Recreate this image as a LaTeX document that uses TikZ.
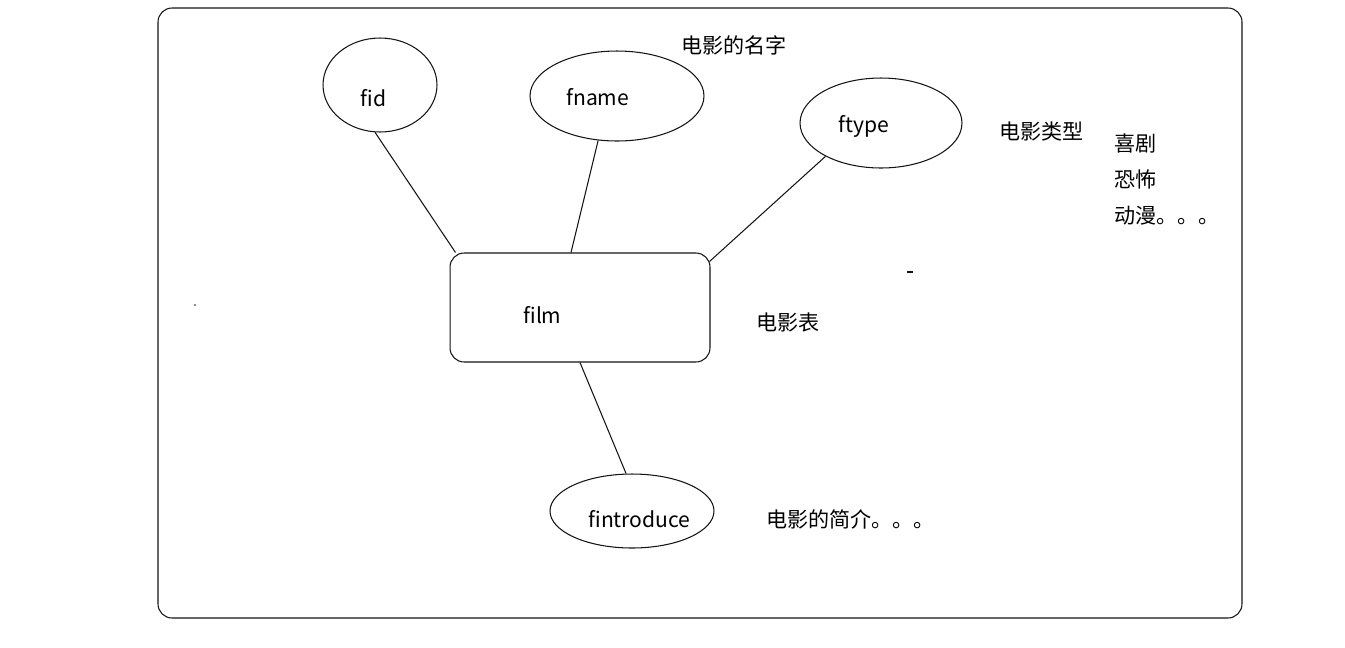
\documentclass[tikz,border=0pt]{standalone}
\usepackage{fontspec}
\newfontfamily\cjk{Noto Sans CJK SC}
\usepackage{tikz}
\usetikzlibrary{calc}
\usetikzlibrary{shapes.geometric}
\usepackage{color}
\definecolor{inkline}{RGB}{20, 20, 20}

\begin{document}
\begin{tikzpicture}[x=0.02cm, y=-0.02cm,
        attr/.style   = {draw=inkline, ellipse, line width=0.6pt, inner sep=0pt},
        entity/.style = {draw=inkline, rectangle, rounded corners=8pt, line width=0.6pt, inner sep=0pt},
        link/.style   = {draw=inkline, line width=0.6pt},
        word/.style   = {font=\cjk\fontsize{12}{14}\selectfont, anchor=base west, inner sep=0pt}]
            \useasboundingbox (0,0) rectangle (1345,647);
            % frame
            \draw[inkline, line width=0.6pt, rounded corners=8pt] (158,8) rectangle (1242,618);
            % attributes and the entity
            \node[attr,   minimum width=2.28cm, minimum height=1.88cm] (fid)        at (380, 85) {};
            \node[attr,   minimum width=3.48cm, minimum height=1.80cm] (fname)      at (617, 96) {};
            \node[attr,   minimum width=3.24cm, minimum height=1.80cm] (ftype)      at (881,123) {};
            \node[entity, minimum width=5.20cm, minimum height=2.18cm] (film)       at (580,307.5) {};
            \node[attr,   minimum width=3.28cm, minimum height=1.48cm] (fintroduce) at (632,511) {};
            % names inside the shapes
            \node[word] (fidtxt)   at (360,106) {fid};
            \node[word] (fnametxt) at (566,105) {fname};
            \node[word] (ftypetxt) at (838,132) {ftype};
            \node[word] (filmtxt)  at (523,323) {film};
            \node[word] (fintrtxt) at (588,527) {fintroduce};
            % notes
            \node[word] (namenote)  at (681, 53) {电影的名字};
            \node[word] (typenote)  at (999,139) {电影类型};
            \node[word] (typeone)   at (1114,151) {喜剧};
            \node[word] (typetwo)   at (1114,187) {恐怖};
            \node[word] (typethree) at (1114,223) {动漫。。。};
            \node[word] (filmnote)  at (756,330) {电影表};
            \node[word] (intronote) at (766,527) {电影的简介。。。};
            % connectors
            \draw[link] (fid.264)    -- ($(film.north west)+(6,0)$);
            \draw[link] (fname.247)  -- ($(film.north)+(-9,0)$);
            \draw[link] (ftype.211)  -- ($(film.north east)+(-1,9)$);
            \draw[link] (film.south) -- (fintroduce.99);
            % stray marks
            \draw[inkline, line width=1pt] (907,272) -- (913,272);
            \fill[inkline] (195,305) circle (0.5pt);
        \end{tikzpicture}
\end{document}
